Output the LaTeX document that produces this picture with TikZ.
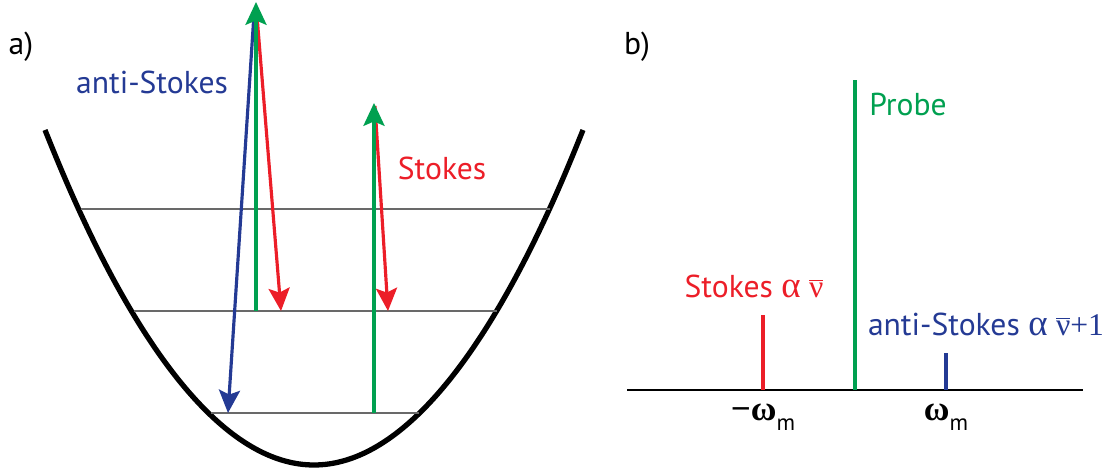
\documentclass[tikz,border=0pt]{standalone}
\usepackage{fontspec}
\setmainfont{PT Sans}
\newfontfamily\grk{Liberation Serif}
\usetikzlibrary{arrows.meta,positioning}
\definecolor{ablue}{RGB}{36,58,148}
\definecolor{sred}{RGB}{236,30,40}
\definecolor{pgreen}{RGB}{0,160,80}
\definecolor{lvlgray}{RGB}{105,105,105}

\begin{document}
\begin{tikzpicture}[x=0.02cm,y=-0.02cm,
lbl/.style={font=\fontsize{18}{20}\selectfont,inner sep=1pt},
lvl/.style={draw=lvlgray,line width=1.7pt},
arr/.style={line width=1.8pt,-{Stealth[length=13pt,width=12pt,inset=2.5pt]}},
tick/.style={line width=1.8pt}
]
\useasboundingbox (0,0) rectangle (1117,472);

% panel a
\node[lbl] (pa) at (21,47) {a)};
\draw[line width=3pt] (45,130) parabola bend (314,465) (583,130);
\coordinate (l1a) at (81,209);  \coordinate (l1b) at (550,209);
\coordinate (l2a) at (134,311); \coordinate (l2b) at (497,311);
\coordinate (l3a) at (211,413); \coordinate (l3b) at (419,413);
\draw[lvl] (l1a) -- (l1b);
\draw[lvl] (l2a) -- (l2b);
\draw[lvl] (l3a) -- (l3b);

\coordinate (g1s) at (256,311); \coordinate (g1e) at (256,2);
\coordinate (g2s) at (374,413); \coordinate (g2e) at (374,103);
\coordinate (r1s) at (257,16);  \coordinate (r1e) at (281,311);
\coordinate (r2s) at (375,106); \coordinate (r2e) at (388,311);
\coordinate (b1s) at (254,14);  \coordinate (b1e) at (228,413);
\draw[arr,ablue] (b1s) -- (b1e);
\draw[arr,sred] (r1s) -- (r1e);
\draw[arr,sred] (r2s) -- (r2e);
\draw[arr,pgreen] (g1s) -- (g1e);
\draw[arr,pgreen] (g2s) -- (g2e);

\node[lbl,text=ablue] (as) at (152,82) {anti-Stokes};
\node[lbl,text=sred] (st) at (442,168) {Stokes};

% panel b
\node[lbl] (pb) at (637,47) {b)};
\coordinate (ax0) at (627,390); \coordinate (ax1) at (1083,390);
\draw[line width=1.7pt] (ax0) -- (ax1);
\coordinate (rs) at (763,390); \coordinate (re) at (763,315);
\coordinate (gs) at (855,390); \coordinate (ge) at (855,80);
\coordinate (bs) at (946,390); \coordinate (be) at (946,353);
\draw[tick,sred] (rs) -- (re);
\draw[tick,pgreen] (gs) -- (ge);
\draw[tick,ablue] (bs) -- (be);

\node[lbl,text=pgreen] (pr) at (908,105) {Probe};
\node[lbl,text=sred] (sl) at (754,286) {Stokes {\grk\fontsize{21}{22}\selectfont α} {\grk$\overline{\hbox{ν}}$}};
\node[lbl,text=ablue] (al) at (986,324) {anti-Stokes {\grk\fontsize{21}{22}\selectfont α} {\grk$\overline{\hbox{ν}}$+1}};
\node[lbl,anchor=base] (wm) at (763,421) {{\grk\bfseries\fontsize{20}{22}\selectfont −ω}\raisebox{-0.6ex}{\fontsize{13}{14}\selectfont m}};
\node[lbl,anchor=base] (wp) at (946,421) {{\grk\bfseries\fontsize{20}{22}\selectfont ω}\raisebox{-0.6ex}{\fontsize{13}{14}\selectfont m}};
\end{tikzpicture}
\end{document}
